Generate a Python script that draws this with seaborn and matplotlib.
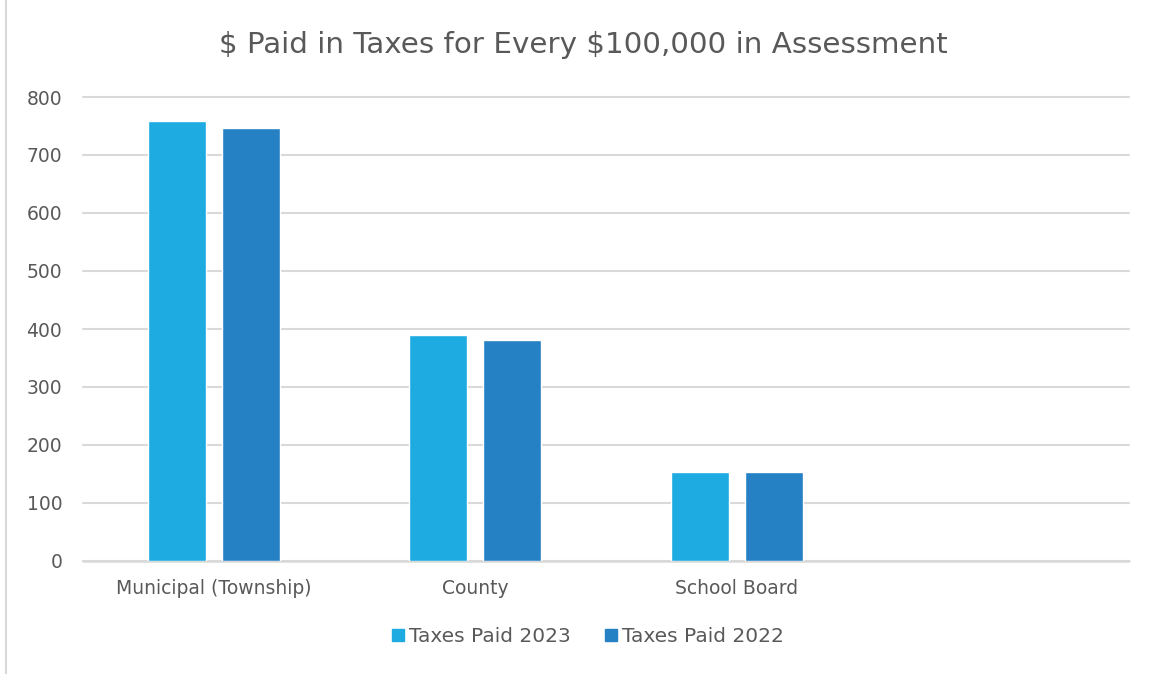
import matplotlib
matplotlib.use("Agg")
import matplotlib.pyplot as plt
import seaborn as sns
import pandas as pd
from matplotlib.lines import Line2D

categories = ["Municipal (Township)", "County", "School Board"]
taxes_2023 = [759, 389, 153]
taxes_2022 = [746, 381, 153]
series_names = ["Taxes Paid 2023", "Taxes Paid 2022"]
y_ticks = [0, 100, 200, 300, 400, 500, 600, 700, 800]
title = "$ Paid in Taxes for Every $100,000 in Assessment"

colors = {"Taxes Paid 2023": "#1DABE2", "Taxes Paid 2022": "#2581C4"}
text_color = "#595959"
grid_color = "#D9D9D9"

rows = []
for cat, v23, v22 in zip(categories, taxes_2023, taxes_2022):
    rows.append({"category": cat, "series": series_names[0], "value": v23})
    rows.append({"category": cat, "series": series_names[1], "value": v22})
df = pd.DataFrame(rows)

sns.set_theme(style="white")
plt.rcParams["font.family"] = ["DejaVu Sans"]
plt.rcParams["text.parse_math"] = False

fig = plt.figure(figsize=(11.54, 6.74), dpi=100)
ax = fig.add_axes([83 / 1154, 113 / 674, 1046 / 1154, 464 / 674])

# an empty fourth slot keeps the category spacing of the original layout
order = categories + [" "]
sns.barplot(data=df, x="category", y="value", hue="series", order=order,
            hue_order=series_names, palette=colors, width=0.566, gap=0.216,
            saturation=1, ax=ax, legend=False)

ax.set_xlim(-0.5, len(order) - 0.5)
ax.set_ylim(0, 800)
ax.set_yticks(y_ticks)
ax.yaxis.grid(True, color=grid_color, linewidth=1.5)
for gl in ax.get_ygridlines():
    gl.set_clip_on(False)
ax.set_axisbelow(True)
for s in ax.spines.values():
    s.set_visible(False)
ax.axhline(0, color=grid_color, linewidth=1.8, zorder=0.5, clip_on=False)
ax.set_xlabel("")
ax.set_ylabel("")
ax.tick_params(axis="both", length=0, colors=text_color, labelsize=13.5)
ax.tick_params(axis="y", pad=15)
ax.tick_params(axis="x", pad=13)

fig.text(583 / 1154, 1 - 45 / 674, title, ha="center", va="center",
         fontsize=21.2, color=text_color)

handles = [Line2D([], [], marker="s", linestyle="none", markersize=9,
                  markerfacecolor=colors[n], markeredgecolor=colors[n])
           for n in series_names]
fig.legend(handles, series_names, loc="center", bbox_to_anchor=(587 / 1154, 1 - 637 / 674),
           ncol=2, frameon=False, fontsize=14.5, labelcolor=text_color,
           handletextpad=0.15, columnspacing=1.6, handlelength=0.8)

# chart frame edge on the left
fig.add_artist(Line2D([6 / 1154, 6 / 1154], [0, 1], transform=fig.transFigure,
                      color=grid_color, linewidth=1.5))

fig.savefig("out.png", dpi=100, facecolor="white")
